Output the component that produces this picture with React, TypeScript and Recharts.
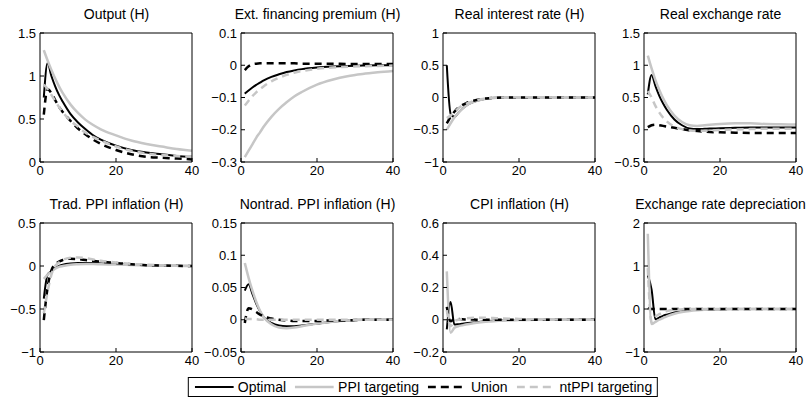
import React from "react";
import { LineChart, Line, XAxis, YAxis } from "recharts";

// quarters
const QUARTERS = [1, 2, 3, 4, 5, 6, 8, 10, 12, 14, 16, 20, 24, 28, 32, 36, 40];

// Output (H)
const outputOpt = [0.75, 1.15, 1.0, 0.88, 0.78, 0.7, 0.56, 0.46, 0.38, 0.31, 0.26, 0.19, 0.14, 0.11, 0.09, 0.07, 0.06];
const outputPpi = [1.3, 1.18, 1.07, 0.97, 0.88, 0.8, 0.67, 0.57, 0.49, 0.43, 0.38, 0.31, 0.25, 0.21, 0.18, 0.15, 0.13];
const outputUnion = [0.55, 0.85, 0.8, 0.72, 0.64, 0.58, 0.48, 0.39, 0.32, 0.26, 0.21, 0.14, 0.09, 0.06, 0.05, 0.04, 0.03];
const outputNt = [0.9, 0.85, 0.78, 0.71, 0.64, 0.58, 0.48, 0.41, 0.34, 0.29, 0.25, 0.18, 0.13, 0.1, 0.08, 0.07, 0.06];

// Ext. financing premium (H)
const premOpt = [-0.088, -0.078, -0.069, -0.061, -0.054, -0.047, -0.036, -0.028, -0.021, -0.016, -0.012, -0.007, -0.004, -0.002, -0.001, 0, 0];
const premPpi = [-0.285, -0.265, -0.245, -0.225, -0.208, -0.19, -0.16, -0.135, -0.115, -0.097, -0.083, -0.06, -0.045, -0.034, -0.027, -0.022, -0.018];
const premUnion = [-0.015, -0.003, 0.003, 0.005, 0.006, 0.006, 0.006, 0.006, 0.006, 0.006, 0.005, 0.005, 0.005, 0.004, 0.004, 0.004, 0.004];
const premNt = [-0.125, -0.11, -0.096, -0.084, -0.074, -0.065, -0.05, -0.039, -0.03, -0.023, -0.018, -0.011, -0.007, -0.005, -0.003, -0.002, -0.001];

// Real interest rate (H)
const rirOpt = [0.5, -0.25, -0.3, -0.24, -0.18, -0.13, -0.07, -0.035, -0.015, -0.005, 0, 0.005, 0.005, 0.003, 0.002, 0.001, 0];
const rirPpi = [-0.5, -0.4, -0.31, -0.24, -0.18, -0.13, -0.07, -0.035, -0.015, -0.005, 0, 0.005, 0.005, 0.003, 0.002, 0.001, 0];
const rirUnion = [-0.4, -0.3, -0.22, -0.16, -0.12, -0.09, -0.05, -0.025, -0.01, -0.003, 0, 0, 0, 0, 0, 0, 0];
const rirNt = [-0.32, -0.28, -0.22, -0.17, -0.13, -0.1, -0.055, -0.028, -0.012, -0.004, 0, 0.003, 0.003, 0.002, 0.001, 0, 0];

// Real exchange rate
const rerOpt = [0.55, 0.85, 0.68, 0.53, 0.41, 0.31, 0.16, 0.07, 0.02, 0.01, 0.015, 0.025, 0.03, 0.035, 0.035, 0.035, 0.035];
const rerPpi = [1.15, 0.95, 0.77, 0.62, 0.49, 0.38, 0.22, 0.12, 0.07, 0.06, 0.07, 0.09, 0.1, 0.1, 0.09, 0.085, 0.08];
const rerUnion = [0.04, 0.07, 0.08, 0.07, 0.06, 0.05, 0.03, 0.01, -0.01, -0.02, -0.03, -0.04, -0.045, -0.05, -0.05, -0.05, -0.05];
const rerNt = [0.6, 0.5, 0.37, 0.27, 0.19, 0.13, 0.05, 0.01, -0.01, -0.015, -0.015, -0.005, 0.005, 0.01, 0.015, 0.015, 0.015];

// Trad. PPI inflation (H)
const tppiOpt = [-0.38, -0.1, -0.06, -0.02, 0, 0.015, 0.03, 0.035, 0.035, 0.035, 0.03, 0.025, 0.015, 0.01, 0.005, 0.002, 0];
const tppiPpi = [-0.15, -0.1, -0.06, -0.03, -0.01, 0, 0.015, 0.02, 0.022, 0.022, 0.02, 0.017, 0.012, 0.008, 0.005, 0.002, 0];
const tppiUnion = [-0.63, -0.25, -0.05, 0.02, 0.05, 0.07, 0.085, 0.08, 0.07, 0.06, 0.05, 0.035, 0.02, 0.01, 0.005, 0.002, 0];
const tppiNt = [-0.55, -0.3, -0.1, 0, 0.04, 0.07, 0.095, 0.1, 0.09, 0.075, 0.06, 0.04, 0.025, 0.015, 0.008, 0.004, 0.002];

// Nontrad. PPI inflation (H)
const nppiOpt = [0.045, 0.055, 0.04, 0.025, 0.013, 0.004, -0.005, -0.009, -0.01, -0.01, -0.009, -0.006, -0.003, -0.001, 0, 0, 0];
const nppiPpi = [0.088, 0.065, 0.045, 0.028, 0.014, 0.004, -0.007, -0.012, -0.013, -0.012, -0.01, -0.006, -0.003, -0.001, 0, 0, 0];
const nppiUnion = [-0.005, 0.018, 0.016, 0.012, 0.008, 0.005, 0.002, 0, -0.001, -0.002, -0.002, -0.002, -0.001, -0.001, 0, 0, 0];
const nppiNt = [0.002, 0.001, 0.001, 0.001, 0, 0, 0, 0, 0, 0, 0, 0, 0, 0, 0, 0, 0];

// CPI inflation (H)
const cpiOpt = [-0.06, 0.11, -0.03, -0.028, -0.025, -0.022, -0.017, -0.012, -0.008, -0.005, -0.003, -0.001, 0, 0, 0, 0, 0];
const cpiPpi = [0.3, -0.08, -0.05, -0.04, -0.035, -0.03, -0.022, -0.016, -0.011, -0.008, -0.005, -0.002, 0, 0, 0, 0, 0];
const cpiUnion = [0.08, -0.01, 0.005, 0.005, 0.003, 0.002, 0.001, 0, 0, 0, 0, 0, 0, 0, 0, 0, 0];
const cpiNt = [0.06, -0.04, -0.01, 0, 0.005, 0.008, 0.012, 0.013, 0.012, 0.01, 0.008, 0.005, 0.003, 0.002, 0.001, 0, 0];

// Exchange rate depreciation
const deprOpt = [0.78, 0.45, -0.24, -0.2, -0.16, -0.13, -0.08, -0.05, -0.03, -0.018, -0.01, -0.003, 0, 0, 0, 0, 0];
const deprPpi = [1.75, -0.35, -0.3, -0.25, -0.21, -0.17, -0.11, -0.07, -0.045, -0.028, -0.017, -0.006, -0.002, 0, 0, 0, 0];
const deprUnion = [0.02, 0, 0, 0, 0, 0, 0, 0, 0, 0, 0, 0, 0, 0, 0, 0, 0];
const deprNt = [0.95, -0.3, -0.18, -0.12, -0.08, -0.05, -0.02, -0.008, -0.003, 0, 0, 0, 0, 0, 0, 0, 0];

const X_TICKS = [0, 20, 40];

type Panel = {
  title: string;
  domain: [number, number];
  ticks: number[];
  opt: number[];
  ppi: number[];
  union: number[];
  nt: number[];
};

const PANELS: Panel[] = [
  { title: "Output (H)", domain: [0, 1.5], ticks: [0, 0.5, 1, 1.5], opt: outputOpt, ppi: outputPpi, union: outputUnion, nt: outputNt },
  { title: "Ext. financing premium (H)", domain: [-0.3, 0.1], ticks: [-0.3, -0.2, -0.1, 0, 0.1], opt: premOpt, ppi: premPpi, union: premUnion, nt: premNt },
  { title: "Real interest rate (H)", domain: [-1, 1], ticks: [-1, -0.5, 0, 0.5, 1], opt: rirOpt, ppi: rirPpi, union: rirUnion, nt: rirNt },
  { title: "Real exchange rate", domain: [-0.5, 1.5], ticks: [-0.5, 0, 0.5, 1, 1.5], opt: rerOpt, ppi: rerPpi, union: rerUnion, nt: rerNt },
  { title: "Trad. PPI inflation (H)", domain: [-1, 0.5], ticks: [-1, -0.5, 0, 0.5], opt: tppiOpt, ppi: tppiPpi, union: tppiUnion, nt: tppiNt },
  { title: "Nontrad. PPI inflation (H)", domain: [-0.05, 0.15], ticks: [-0.05, 0, 0.05, 0.1, 0.15], opt: nppiOpt, ppi: nppiPpi, union: nppiUnion, nt: nppiNt },
  { title: "CPI inflation (H)", domain: [-0.2, 0.6], ticks: [-0.2, 0, 0.2, 0.4, 0.6], opt: cpiOpt, ppi: cpiPpi, union: cpiUnion, nt: cpiNt },
  { title: "Exchange rate depreciation", domain: [-1, 2], ticks: [-1, 0, 1, 2], opt: deprOpt, ppi: deprPpi, union: deprUnion, nt: deprNt },
];

const GRAY = "#c6c6c6";
const FONT = "'Liberation Sans', Arial, Helvetica, sans-serif";
const COL_LEFT = [40, 241, 443, 644];
const ROW_TOP = [32, 222];
const PW = 153;
const PH = 130;
const YW = 40;
const XH = 24;
const PAD = 10;

const fmt = (v: number) => (v < 0 ? "\u2212" + String(-v) : String(v));
const tickStyle = { fill: "#000", fontSize: 13, fontFamily: FONT };
const blackLine = { stroke: "#000", strokeWidth: 1 };

function SmallChart({ p, left, top }: { p: Panel; left: number; top: number }) {
  const data = QUARTERS.map((q, i) => ({ q, opt: p.opt[i], ppi: p.ppi[i], union: p.union[i], nt: p.nt[i] }));
  return (
    <>
      <div
        style={{
          position: "absolute",
          left: left + PW / 2 - 120,
          width: 240,
          top: top - 26,
          textAlign: "center",
          fontFamily: FONT,
          fontSize: 14,
          whiteSpace: "nowrap",
        }}
      >
        {p.title}
      </div>
      <div style={{ position: "absolute", left: left - YW, top: top - PAD }}>
        <LineChart width={YW + PW + PAD} height={PH + XH + PAD} data={data} margin={{ top: PAD, right: PAD, left: 0, bottom: 0 }}>
          <XAxis
            dataKey="q"
            type="number"
            domain={[0, 40]}
            ticks={X_TICKS}
            height={XH}
            tick={tickStyle}
            tickSize={-4}
            tickMargin={8}
            axisLine={blackLine}
            tickLine={blackLine}
            allowDataOverflow
          />
          <XAxis
            xAxisId="top"
            orientation="top"
            dataKey="q"
            type="number"
            domain={[0, 40]}
            ticks={X_TICKS}
            height={1}
            tick={false}
            tickSize={-4}
            axisLine={blackLine}
            tickLine={blackLine}
          />
          <YAxis
            type="number"
            domain={p.domain}
            ticks={p.ticks}
            width={YW}
            tick={tickStyle}
            tickFormatter={fmt}
            tickSize={-4}
            tickMargin={8}
            axisLine={blackLine}
            tickLine={blackLine}
            interval={0}
            allowDataOverflow
          />
          <YAxis
            yAxisId="right"
            orientation="right"
            type="number"
            domain={p.domain}
            ticks={p.ticks}
            width={1}
            tick={false}
            tickSize={-4}
            axisLine={blackLine}
            tickLine={blackLine}
            interval={0}
          />
          <Line dataKey="opt" type="monotone" stroke="#000" strokeWidth={2} dot={false} isAnimationActive={false} />
          <Line dataKey="ppi" type="monotone" stroke={GRAY} strokeWidth={2.5} dot={false} isAnimationActive={false} />
          <Line dataKey="union" type="monotone" stroke="#000" strokeWidth={2.5} strokeDasharray="7 5" dot={false} isAnimationActive={false} />
          <Line dataKey="nt" type="monotone" stroke={GRAY} strokeWidth={2.5} strokeDasharray="7 5" dot={false} isAnimationActive={false} />
        </LineChart>
      </div>
    </>
  );
}

const LEGEND = [
  { name: "Optimal", color: "#000", dash: undefined as string | undefined, w: 2 },
  { name: "PPI targeting", color: GRAY, dash: undefined as string | undefined, w: 2.5 },
  { name: "Union", color: "#000", dash: "8 5", w: 2.5 },
  { name: "ntPPI targeting", color: GRAY, dash: "8 5", w: 2.5 },
];

export default function App() {
  return (
    <div style={{ position: "absolute", left: 0, top: 0, width: 811, height: 400, background: "#fff", overflow: "hidden" }}>
      {PANELS.map((p, i) => (
        <SmallChart key={p.title} p={p} left={COL_LEFT[i % 4]} top={ROW_TOP[Math.floor(i / 4)]} />
      ))}
      <div
        style={{
          position: "absolute",
          left: 423,
          transform: "translateX(-50%)",
          top: 377,
          height: 20,
          border: "1px solid #000",
          display: "flex",
          alignItems: "center",
          fontFamily: FONT,
          fontSize: 14,
          paddingLeft: 6,
          paddingRight: 5,
          boxSizing: "border-box",
          whiteSpace: "nowrap",
          background: "#fff",
        }}
      >
        {LEGEND.map((l, i) => (
          <div key={l.name} style={{ display: "flex", alignItems: "center", marginLeft: i === 0 ? 0 : 9 }}>
            <svg width={39} height={6} style={{ marginRight: 4 }}>
              <line x1={0} x2={39} y1={3} y2={3} stroke={l.color} strokeWidth={l.w} strokeDasharray={l.dash} />
            </svg>
            <span>{l.name}</span>
          </div>
        ))}
      </div>
    </div>
  );
}
